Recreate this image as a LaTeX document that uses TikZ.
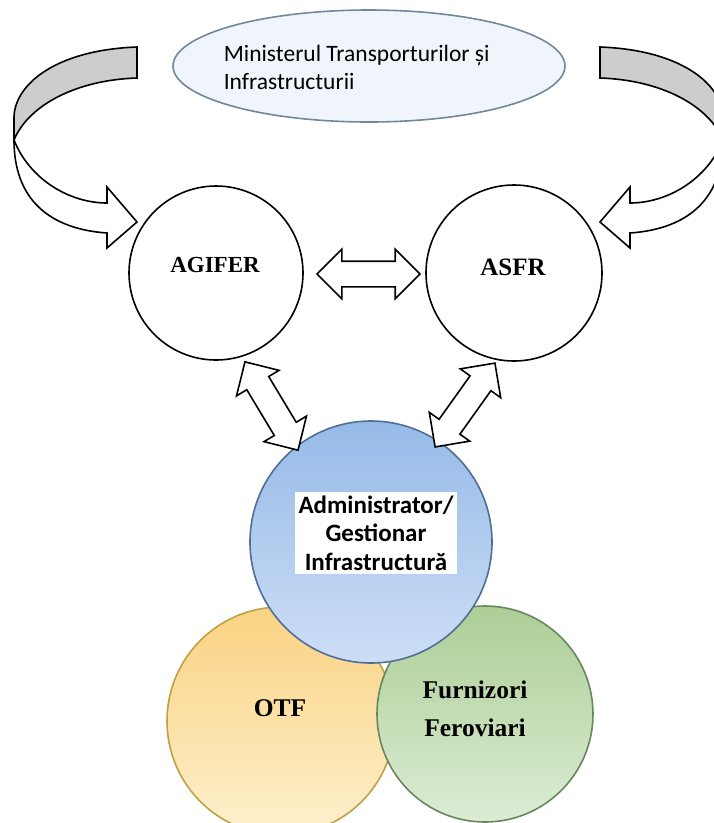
\documentclass[tikz,border=0pt]{standalone}
\usepackage{fontspec}
\setmainfont{Liberation Serif}
\newfontfamily\calibri{Carlito}
\usetikzlibrary{shapes.geometric, shapes.arrows}

\definecolor{ellfill}{RGB}{240,245,252}
\definecolor{elldraw}{RGB}{115,135,155}
\definecolor{ribbon}{RGB}{205,205,205}
\definecolor{bluetop}{RGB}{150,186,232}
\definecolor{bluebot}{RGB}{205,222,246}
\definecolor{bluedraw}{RGB}{80,110,150}
\definecolor{orangetop}{RGB}{250,210,130}
\definecolor{orangebot}{RGB}{254,240,205}
\definecolor{orangedraw}{RGB}{190,160,70}
\definecolor{greentop}{RGB}{172,206,150}
\definecolor{greenbot}{RGB}{220,236,212}
\definecolor{greendraw}{RGB}{105,135,95}

\begin{document}
\begin{tikzpicture}[x=1pt, y=-1pt, line width=1.6pt,
    bubble/.style={circle, draw, minimum size=#1, inner sep=0pt},
    dblarrow/.style={double arrow, draw, fill=white, minimum height=103pt,
        double arrow head extend=12pt, inner xsep=0pt, inner ysep=12pt},
    agency/.style={font=\fontsize{#1}{28}\selectfont\bfseries}]
    \useasboundingbox (0,0) rectangle (714,823);
    \clip (0,0) rectangle (714,823);

    % bent arrows from the ministry, left one and its mirror
    \foreach \s/\dx in {1/0, -1/737} {
        \begin{scope}[xshift=\dx pt, xscale=\s]
            \draw [fill=ribbon] (137,47) .. controls (55,50) and (14,85) .. (14,118)
                -- (14,140) .. controls (28,106) and (75,80) .. (137,78) -- cycle;
            \draw [fill=white] (14,140) .. controls (30,180) and (70,203) .. (107,203)
                -- (107,187) -- (137,222) -- (107,248) -- (107,233)
                .. controls (50,229) and (14,200) .. (14,140) -- cycle;
        \end{scope}
    }

    \node [ellipse, draw=elldraw, fill=ellfill, minimum width=392pt, minimum height=112pt,
        inner sep=0pt] (mintr) at (369,66) {};
    \node [anchor=north west, align=left, inner sep=0pt,
        font=\calibri\fontsize{23.5}{28}\selectfont] (mintrtext) at (223,44)
        {Ministerul Transporturilor și\\Infrastructurii};

    \node [bubble=174pt] (agifer) at (216,273) {};
    \node [bubble=176pt] (asfr) at (514,273) {};
    \node [agency=23] (agifertext) at (215,265) {AGIFER};
    \node [agency=25] (asfrtext) at (513,267) {ASFR};

    \node [bubble=228pt, draw=orangedraw, top color=orangetop, bottom color=orangebot] (otf) at (281,721) {};
    \node [bubble=216pt, draw=greendraw, top color=greentop, bottom color=greenbot] (furn) at (485,714) {};
    \node [bubble=242pt, draw=bluedraw, top color=bluetop, bottom color=bluebot] (admin) at (371,542) {};

    \node [fill=white, inner sep=4pt, align=center,
        font=\calibri\bfseries\fontsize{25}{28.5}\selectfont] (admintext) at (376,533)
        {Administrator/\\Gestionar\\Infrastructură};
    \node [agency=25.5] (otftext) at (280,708) {OTF};
    \node [align=center, font=\fontsize{25.5}{38}\selectfont\bfseries] (furntext) at (475,709)
        {Furnizori\\Feroviari};

    \node [dblarrow] (agas) at (368.5,274) {};
    \node [dblarrow, rotate=-59] (agadm) at (271.5,406) {};
    \node [dblarrow, rotate=54.5] (asadm) at (465,405) {};
\end{tikzpicture}
\end{document}
